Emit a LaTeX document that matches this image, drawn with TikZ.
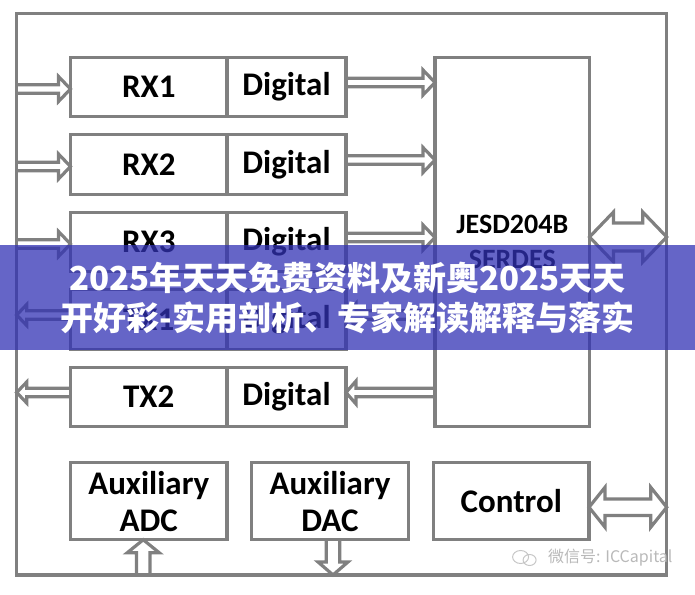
\documentclass[tikz,border=0pt]{standalone}
\usepackage{fontspec}
\setmainfont{Carlito}
\newfontfamily\cjk{Noto Sans CJK SC}
\usetikzlibrary{positioning,calc}
\definecolor{bannerblue}{RGB}{50,50,180}

\begin{document}
\begin{tikzpicture}[x=1pt, y=1pt,
  box/.style={draw=gray, line width=3.4pt, outer sep=0pt, inner sep=0pt, align=center,
    font=\bfseries\fontsize{33}{37}\selectfont},
  ana/.style={box, minimum width=156.5pt, minimum height=59.5pt},
  dig/.style={box, minimum width=119pt, minimum height=59.5pt},
  aux/.style={box, minimum height=77pt},
  % hollow block arrow: half gap, half head, head length
  arr/.style n args={3}{draw=gray, line width=3.2pt, line join=miter, to path={
    ($(\tikztostart)!#1!90:(\tikztotarget)$)
    -- ($($(\tikztotarget)!#3!(\tikztostart)$)!#1!90:(\tikztotarget)$)
    -- ($($(\tikztotarget)!#3!(\tikztostart)$)!#2!90:(\tikztotarget)$)
    -- (\tikztotarget)
    -- ($($(\tikztotarget)!#3!(\tikztostart)$)!#2!-90:(\tikztotarget)$)
    -- ($($(\tikztotarget)!#3!(\tikztostart)$)!#1!-90:(\tikztotarget)$)
    -- ($(\tikztostart)!#1!-90:(\tikztotarget)$)}},
  arrboth/.style n args={3}{draw=gray, line width=3.2pt, line join=miter, to path={
    (\tikztostart)
    -- ($($(\tikztostart)!#3!(\tikztotarget)$)!#2!90:(\tikztotarget)$)
    -- ($($(\tikztostart)!#3!(\tikztotarget)$)!#1!90:(\tikztotarget)$)
    -- ($($(\tikztotarget)!#3!(\tikztostart)$)!#1!90:(\tikztotarget)$)
    -- ($($(\tikztotarget)!#3!(\tikztostart)$)!#2!90:(\tikztotarget)$)
    -- (\tikztotarget)
    -- ($($(\tikztotarget)!#3!(\tikztostart)$)!#2!-90:(\tikztotarget)$)
    -- ($($(\tikztotarget)!#3!(\tikztostart)$)!#1!-90:(\tikztotarget)$)
    -- ($($(\tikztostart)!#3!(\tikztotarget)$)!#1!-90:(\tikztotarget)$)
    -- ($($(\tikztostart)!#3!(\tikztotarget)$)!#2!-90:(\tikztotarget)$)
    -- cycle}}]
\useasboundingbox (0,0) rectangle (695,594);
\node (frame) [box, minimum width=650pt, minimum height=561.7pt] at (341.7,299.9) {};
\node (rx1) [ana] at (148.75,507) {RX1};
\node (rx2) [ana, below=18pt of rx1] {RX2};
\node (rx3) [ana, below=18pt of rx2] {RX3};
\node (tx1) [ana, below=18pt of rx3] {TX1};
\node (tx2) [ana, below=18pt of tx1] {TX2};
\node (dig1) [dig, right=0pt of rx1] {Digital};
\node (dig2) [dig, right=0pt of rx2] {Digital};
\node (dig3) [dig, right=0pt of rx3] {Digital};
\node (dig4) [dig, right=0pt of tx1] {Digital};
\node (dig5) [dig, right=0pt of tx2] {Digital};
\node (jesd) [box, minimum width=154.5pt, minimum height=369.5pt, below right=0pt and 89pt of dig1.north east,
  font=\bfseries\fontsize{28}{35}\selectfont] {JESD204B\\SERDES};
\node (adc) [aux, minimum width=156.5pt, below=36pt of tx2] {Auxiliary\\ADC};
\node (dac) [aux, minimum width=157pt, right=24.5pt of adc] {Auxiliary\\DAC};
\node (ctrl) [aux, minimum width=155.5pt, right=25pt of dac] {Control};

\foreach \n in {rx1,rx2,rx3}
  \draw[arr={4.2pt}{12.5pt}{12pt}] ([yshift=-2pt]\n.west -| frame.west) to ([yshift=-2pt]\n.west);
\foreach \n in {dig1,dig2,dig3}
  \draw[arr={4.2pt}{12.5pt}{12pt}] ([yshift=4.5pt]\n.east) to ([yshift=4.5pt]\n.east -| jesd.west);
\foreach \t/\d in {tx1/dig4,tx2/dig5} {
  \draw[arr={4.2pt}{11.5pt}{10pt}] ([yshift=4.5pt]\d.east -| jesd.west) to ([yshift=4.5pt]\d.east);
  \draw[arr={4.2pt}{10.5pt}{10pt}] ([yshift=4.5pt]\t.west) to ([yshift=4.5pt]\t.west -| frame.west);
}
\draw[arrboth={14pt}{25pt}{24pt}] ([yshift=5pt]jesd.east) to ([yshift=5pt]jesd.east -| frame.east);
\draw[arrboth={8.3pt}{20pt}{16pt}] ([yshift=-6pt]ctrl.east) to ([yshift=-6pt]ctrl.east -| frame.east);
\draw[arr={6.7pt}{16pt}{13pt}] ([xshift=-5.5pt]adc.south |- frame.south) to ([xshift=-5.5pt]adc.south);
\draw[arr={6.7pt}{15pt}{13pt}] ([xshift=3pt]dac.south) to ([xshift=3pt]dac.south |- frame.south);

\node (banner) [fill=bannerblue, fill opacity=0.75, text opacity=1, text=white, minimum width=695pt,
  minimum height=105pt, align=center, font=\cjk\bfseries\fontsize{33}{40}\selectfont]
  at (347.5,296.5) {2025年天天免费资料及新奥2025天天\\开好彩-实用剖析、专家解读解释与落实};
\node (mark) [text=gray!55, font=\cjk\fontsize{16}{16}\selectfont, anchor=east] at (676,36) {微信号: ICCapital};
\draw[gray!45, line width=1pt] ([xshift=-24pt,yshift=1pt]mark.west) ellipse (8 and 6.5)
  ([xshift=-15pt,yshift=-2pt]mark.west) ellipse (6.5 and 5.5);
\end{tikzpicture}
\end{document}
